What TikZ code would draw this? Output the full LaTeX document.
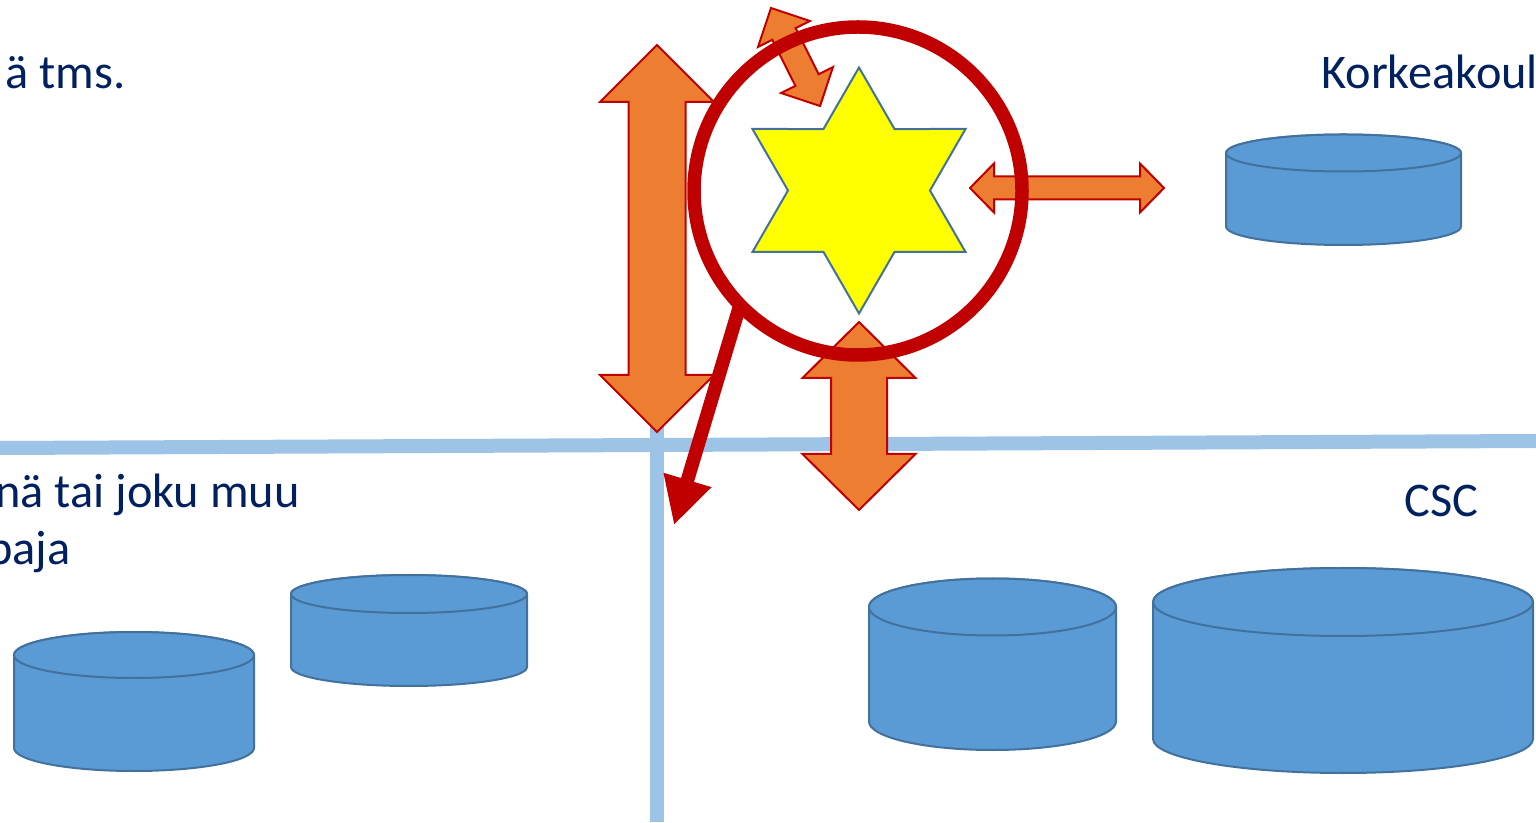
\documentclass[tikz,border=0pt]{standalone}
\usepackage{fontspec}
\setmainfont{Carlito}
\usepackage{tikz}
\usetikzlibrary{arrows.meta}

\definecolor{gridblue}{HTML}{9DC3E6}
\definecolor{diskfill}{HTML}{5B9BD5}
\definecolor{diskline}{HTML}{41719C}
\definecolor{arrowfill}{HTML}{ED7D31}
\definecolor{darkred}{HTML}{C00000}
\definecolor{navy}{HTML}{002060}
\definecolor{staryellow}{HTML}{FFFF00}

% double headed block arrow: centre x, centre y, angle, half length, head length, head half width, shaft half width
\newcommand{\dblarrow}[7]{%
  \draw[fatarrow, shift={(#1,#2)}, rotate=#3]
    (-#4,0) -- (-#4+#5,#6) -- (-#4+#5,#7) -- (#4-#5,#7) -- (#4-#5,#6) -- (#4,0)
    -- (#4-#5,-#6) -- (#4-#5,-#7) -- (-#4+#5,-#7) -- (-#4+#5,-#6) -- cycle;
}
% database cylinder: left x, right x, top y, bottom y, y radius
\newcommand{\dbcyl}[5]{%
  \pgfmathsetmacro\rx{(#2-#1)/2}
  \filldraw[disk] (#1,#3) -- (#1,#4) arc[start angle=180, end angle=360, x radius=\rx, y radius=#5]
    -- (#2,#3) arc[start angle=0, end angle=180, x radius=\rx, y radius=#5] -- cycle;
  \filldraw[disk] (#1+\rx,#3) ellipse[x radius=\rx, y radius=#5];
}

\begin{document}
\begin{tikzpicture}[x=0.2mm, y=0.2mm,
  gridline/.style={gridblue, line width=2.8mm},
  disk/.style={fill=diskfill, draw=diskline, line width=0.4mm},
  fatarrow/.style={fill=arrowfill, draw=darkred, line width=0.4mm},
  hexstar/.style={fill=staryellow, draw=diskline, line width=0.4mm},
  lens/.style={circle, draw=darkred, line width=2.7mm, minimum size=65.6mm, inner sep=0pt, outer sep=0pt},
  pointer/.style={darkred, line width=2.7mm, -{Triangle[length=9.4mm, width=9.4mm]}},
  txt/.style={navy, font=\fontsize{27.5}{33}\selectfont, inner sep=0pt, anchor=base west}]
  \useasboundingbox (0,0) rectangle (1536,822);

  % quadrant lines
  \draw[gridline] (0,374) -- (1536,381);
  \draw[gridline] (657,0) -- (657,400);

  % storages
  \dbcyl{1226}{1461}{669}{595.5}{18.5}
  \dbcyl{14}{254}{167}{74}{23}
  \dbcyl{291}{527}{228}{155}{19}
  \dbcyl{869}{1116}{215}{100.5}{28.5}
  \dbcyl{1153}{1533}{220}{83}{34}

  % exchange arrows
  \dblarrow{657}{583.5}{90}{193.5}{57}{57}{28.5}
  \dblarrow{859}{406}{90}{94}{56}{56.5}{28}
  \dblarrow{1067}{634}{0}{97}{24}{24.5}{11.5}
  \dblarrow{795.5}{765}{-63.4}{54.8}{29}{29}{13}

  % star
  \filldraw[hexstar, shift={(859,631.5)}] (90:123)
    \foreach \k in {1,...,11}{ -- ({90+30*\k}:{ifthenelse(mod(\k,2)==1,71,123)}) } -- cycle;

  % magnifier
  \node[lens] (lens) at (858,631) {};
  \coordinate (tip) at (674,297);
  \draw[pointer] (lens.224) -- (tip);

  % labels
  \node[txt] (tms) at (5,733) {ä tms.};
  \node[txt] (korkea) at (1321,733) {Korkeakoul};
  \node[txt] (muu) at (-5,314) {nä tai joku muu};
  \node[txt] (paja) at (-13,257) {paja};
  \node[txt] (csc) at (1404,305) {CSC};
\end{tikzpicture}
\end{document}
